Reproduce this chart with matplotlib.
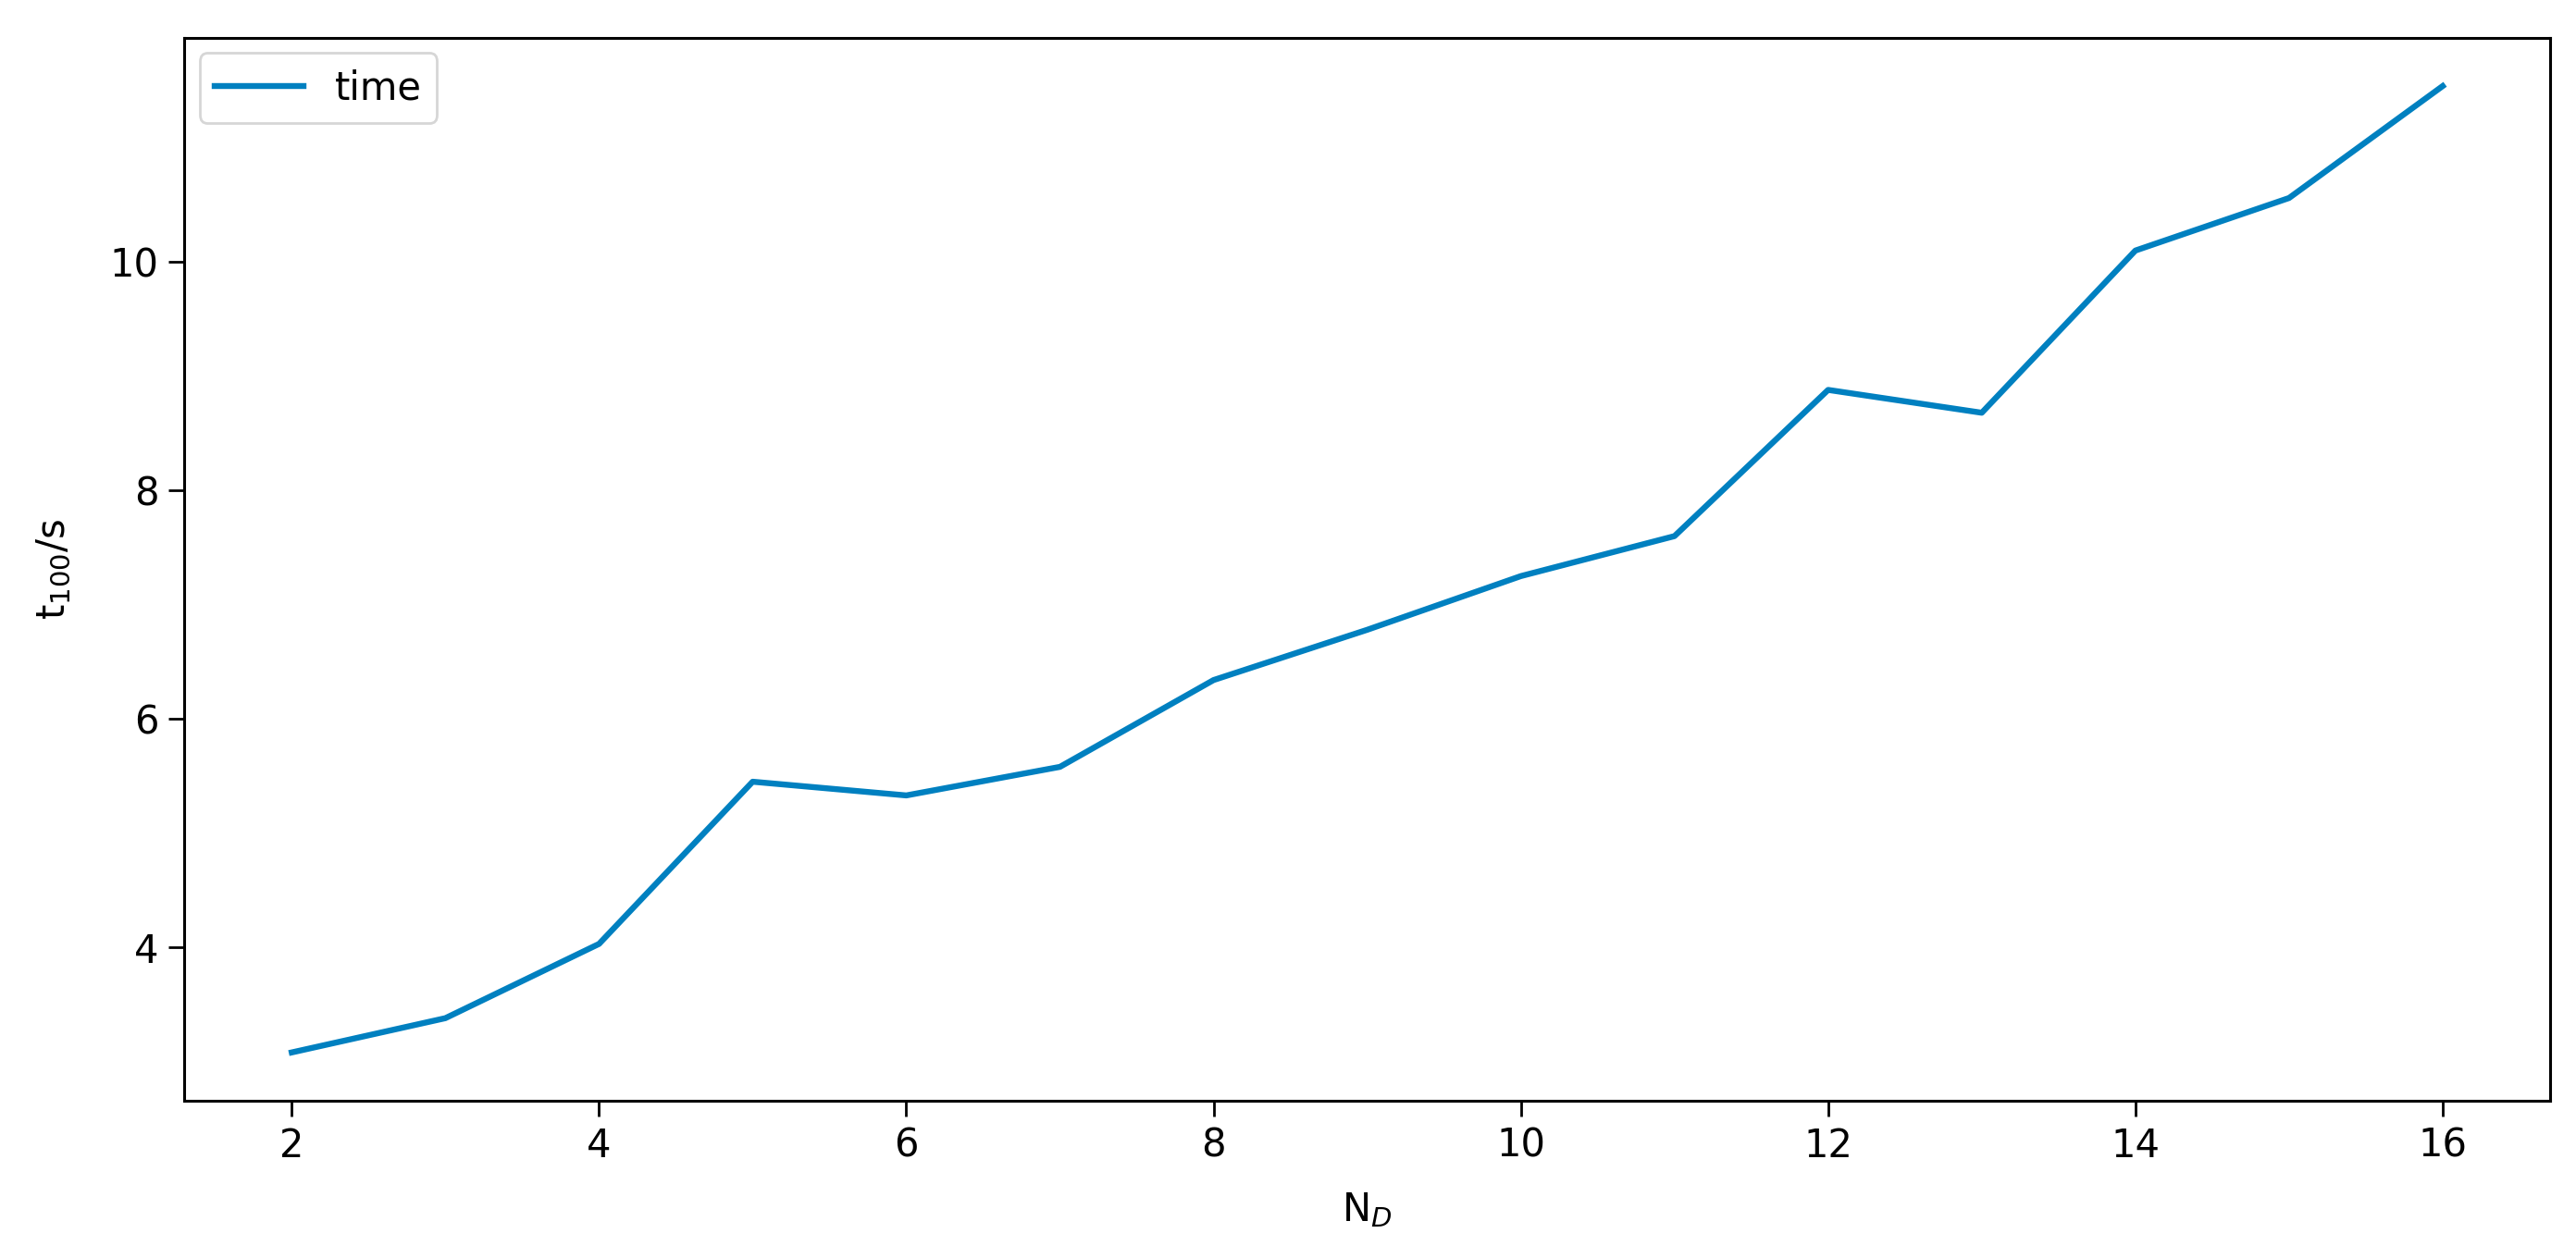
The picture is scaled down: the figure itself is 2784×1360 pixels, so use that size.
import matplotlib
matplotlib.use("Agg")
import matplotlib.pyplot as plt

# number of D values and time for 100 steps
n_d = [2, 3, 4, 5, 6, 7, 8, 9, 10, 11, 12, 13, 14, 15, 16]
t_100 = [3.08, 3.38, 4.03, 5.45, 5.33, 5.58, 6.34, 6.78, 7.25, 7.60,
         8.88, 8.68, 10.10, 10.56, 11.54]

plt.rcParams["font.size"] = 15

fig = plt.figure(figsize=(13.92, 6.8), dpi=200)
ax = fig.add_axes([0.0715, 0.125, 0.9185, 0.845])

ax.plot(n_d, t_100, color="#0080c0", linewidth=2.3, label="time")
ax.set_xlabel("N$_D$", labelpad=10)
ax.set_ylabel("t$_{100}$/s", labelpad=14)
ax.set_xticks([2, 4, 6, 8, 10, 12, 14, 16])
ax.set_yticks([4, 6, 8, 10])
ax.tick_params(length=6, width=1.0, pad=4)
for s in ax.spines.values():
    s.set_linewidth(1.1)
ax.legend(loc="upper left", handlelength=2.3, borderaxespad=0.4)

fig.savefig("out.png", dpi=200)
